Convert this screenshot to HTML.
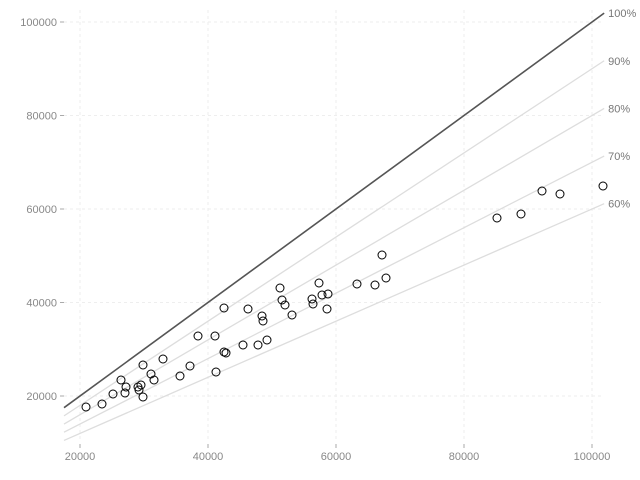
<!DOCTYPE html>
<html><head><meta charset="utf-8"><style>
body{margin:0;background:#fff}
svg{display:block;font-family:"Liberation Sans",sans-serif}
</style></head><body>
<svg id="chart" width="640" height="480"></svg>
<script>
const xTicks=[20000,40000,60000,80000,100000];
const yTicks=[20000,40000,60000,80000,100000];
const ratios=[1.0,0.9,0.8,0.7,0.6];
const ratioLabels=["100%","90%","80%","70%","60%"];
const xs=[20938,23438,25156,26406,27031,27188,29063,29219,29531,29844,29844,31094,31563,32969,35625,37188,38438,41094,41250,42500,42500,42813,45469,46250,47813,48438,48594,49219,51250,51563,52031,53125,56250,56406,57344,57813,58750,58594,63281,66094,67188,67813,85156,88906,92188,95000,101719];
const ys=[17647,18289,20428,23422,20642,21925,21925,21283,22353,19786,26631,24706,23422,27914,24278,26417,32834,32834,25134,29412,38823,29198,30909,38609,30909,37112,36043,31978,43101,40534,39465,37326,40748,39679,44171,41604,41818,38609,43957,43743,50160,45240,58074,58930,63850,63208,64919];
const xMin=17500,xMax=101900;
const X=v=>80+(v-20000)*0.0064;
const Y=v=>396-(v-20000)*0.004675;
const svg=document.getElementById('chart');
const NS="http://www.w3.org/2000/svg";
function mk(t,a){const e=document.createElementNS(NS,t);for(const k in a)e.setAttribute(k,a[k]);svg.appendChild(e);return e;}
xTicks.forEach((t,i)=>{
  const g=mk('line',{x1:X(t),x2:X(t),y1:10,y2:440,stroke:'#eee','stroke-dasharray':'3,3'});
  
  
  const tk=mk('line',{x1:X(t),x2:X(t),y1:444,y2:448,stroke:'#aaa'});
  
  
  const l=mk('text',{x:X(t),y:460,'text-anchor':'middle','font-size':11,fill:'#888'});
  l.textContent=t;
  
  
});
yTicks.forEach((t,i)=>{
  const g=mk('line',{x1:64,x2:604,y1:Y(t),y2:Y(t),stroke:'#eee','stroke-dasharray':'3,3'});
  
  
  const tk=mk('line',{x1:60,x2:64,y1:Y(t),y2:Y(t),stroke:'#aaa'});
  
  
  const l=mk('text',{x:57,y:Y(t)+4,'text-anchor':'end','font-size':11,fill:'#888'});
  l.textContent=t;
  
  
});
ratios.forEach((r,i)=>{
  const ln=mk('line',{x1:X(xMin),y1:Y(xMin*r),x2:X(xMax),y2:Y(xMax*r),stroke:r===1?'#555':'#ddd','stroke-width':r===1?1.6:1.3});
  
  
  const l=mk('text',{x:X(xMax)+4,y:Y(xMax*r)+4,'font-size':11,fill:'#777'});
  l.textContent=ratioLabels[i];
  
  
});
xs.forEach((v,i)=>{
  const c=mk('circle',{cx:X(v),cy:Y(ys[i]),r:4,fill:'none',stroke:'#000','stroke-width':1});
  
  
});
</script>
</body></html>
